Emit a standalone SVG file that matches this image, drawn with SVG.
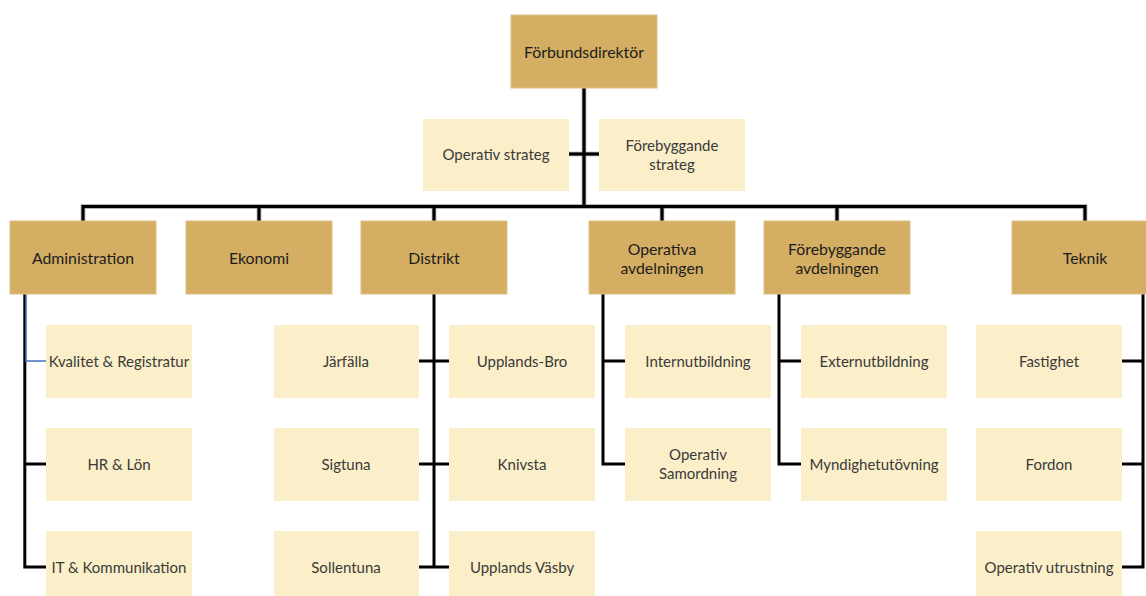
<svg xmlns="http://www.w3.org/2000/svg" width="1146" height="596" viewBox="0 0 1146 596">
<style>
.d{fill:#D4AE63;stroke:#DFC085;stroke-width:1}
.l{fill:#FBEFC9}
text{font-family:"Lato","Open Sans","Liberation Sans",sans-serif;font-size:15px;text-anchor:middle;dominant-baseline:central}
.dt{fill:#1c1c1c;font-size:15.8px}
.lt{fill:#3a3a3a}
.u{fill:none;stroke:#9c9c9c;stroke-width:4.6}
.k{fill:none;stroke:#000;stroke-width:3}
.b{fill:none;stroke:#4472C4;stroke-width:1.4}
</style>
<rect width="1146" height="596" fill="#fff"/>
<g id="connectors">
<path class="u" d="M584,88V206.5M569,154H599M83,221V206.5H1085V221M259,206.5V221M434,206.5V221M662,206.5V221M837,206.5V221"/>
<path class="k" d="M584,88V206.5M569,154H599M83,221V206.5H1085V221M259,206.5V221M434,206.5V221M662,206.5V221M837,206.5V221"/>
<path class="k" d="M24.8,294V567H46M24.8,464H46"/>
<path class="b" d="M25.9,294V361H46"/>
<path class="k" d="M434,294V567M419,361H449M419,464H449M419,567H449"/>
<path class="k" d="M603,294V464H625M603,361H625"/>
<path class="k" d="M779,294V464H801M779,361H801"/>
<path class="k" d="M1143,294V567H1122M1143,361H1122M1143,464H1122"/>
</g>
<g id="n-forbundsdirektor"><rect class="d" x="511" y="15" width="146" height="73"/><text class="dt" x="584" y="51">Förbundsdirektör</text></g>
<g id="n-operativ-strateg"><rect class="l" x="423" y="119" width="146" height="72"/><text class="lt" x="496" y="154">Operativ strateg</text></g>
<g id="n-forebyggande-strateg"><rect class="l" x="599" y="119" width="146" height="72"/><text class="lt" x="672" y="145">Förebyggande</text><text class="lt" x="672" y="164">strateg</text></g>
<g id="n-administration"><rect class="d" x="10" y="221" width="146" height="73"/><text class="dt" x="83" y="257">Administration</text></g>
<g id="n-ekonomi"><rect class="d" x="186" y="221" width="146" height="73"/><text class="dt" x="259" y="257">Ekonomi</text></g>
<g id="n-distrikt"><rect class="d" x="361" y="221" width="146" height="73"/><text class="dt" x="434" y="257">Distrikt</text></g>
<g id="n-operativa"><rect class="d" x="589" y="221" width="146" height="73"/><text class="dt" x="662" y="248">Operativa</text><text class="dt" x="662" y="267">avdelningen</text></g>
<g id="n-forebyggande"><rect class="d" x="764" y="221" width="146" height="73"/><text class="dt" x="837" y="248">Förebyggande</text><text class="dt" x="837" y="267">avdelningen</text></g>
<g id="n-teknik"><rect class="d" x="1012" y="221" width="146" height="73"/><text class="dt" x="1085" y="257">Teknik</text></g>
<g id="n-kvalitet"><rect class="l" x="46" y="325" width="146" height="73"/><text class="lt" x="119" y="361">Kvalitet &amp; Registratur</text></g>
<g id="n-hr"><rect class="l" x="46" y="428" width="146" height="73"/><text class="lt" x="119" y="464">HR &amp; Lön</text></g>
<g id="n-it"><rect class="l" x="46" y="531" width="146" height="73"/><text class="lt" x="119" y="567">IT &amp; Kommunikation</text></g>
<g id="n-jarfalla"><rect class="l" x="274" y="325" width="145" height="73"/><text class="lt" x="346" y="361">Järfälla</text></g>
<g id="n-sigtuna"><rect class="l" x="274" y="428" width="145" height="73"/><text class="lt" x="346" y="464">Sigtuna</text></g>
<g id="n-sollentuna"><rect class="l" x="274" y="531" width="145" height="73"/><text class="lt" x="346" y="567">Sollentuna</text></g>
<g id="n-upplands-bro"><rect class="l" x="449" y="325" width="146" height="73"/><text class="lt" x="522" y="361">Upplands-Bro</text></g>
<g id="n-knivsta"><rect class="l" x="449" y="428" width="146" height="73"/><text class="lt" x="522" y="464">Knivsta</text></g>
<g id="n-upplands-vasby"><rect class="l" x="449" y="531" width="146" height="73"/><text class="lt" x="522" y="567">Upplands Väsby</text></g>
<g id="n-internutbildning"><rect class="l" x="625" y="325" width="146" height="73"/><text class="lt" x="698" y="361">Internutbildning</text></g>
<g id="n-operativ-samordning"><rect class="l" x="625" y="428" width="146" height="73"/><text class="lt" x="698" y="454">Operativ</text><text class="lt" x="698" y="473">Samordning</text></g>
<g id="n-externutbildning"><rect class="l" x="801" y="325" width="146" height="73"/><text class="lt" x="874" y="361">Externutbildning</text></g>
<g id="n-myndighet"><rect class="l" x="801" y="428" width="146" height="73"/><text class="lt" x="874" y="464">Myndighetutövning</text></g>
<g id="n-fastighet"><rect class="l" x="976" y="325" width="146" height="73"/><text class="lt" x="1049" y="361">Fastighet</text></g>
<g id="n-fordon"><rect class="l" x="976" y="428" width="146" height="73"/><text class="lt" x="1049" y="464">Fordon</text></g>
<g id="n-operativ-utrustning"><rect class="l" x="976" y="531" width="146" height="73"/><text class="lt" x="1049" y="567">Operativ utrustning</text></g>
</svg>
